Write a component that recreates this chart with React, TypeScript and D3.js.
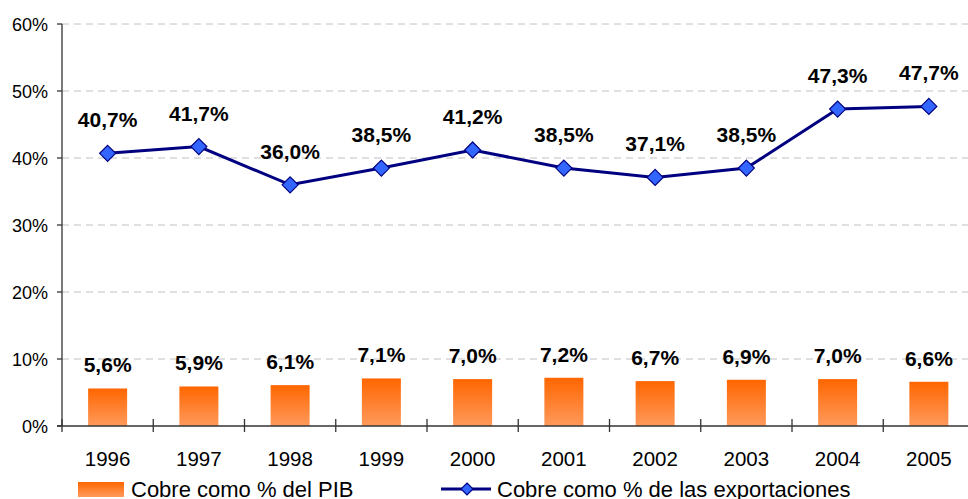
import * as d3 from "d3";

const years = ["1996", "1997", "1998", "1999", "2000", "2001", "2002", "2003", "2004", "2005"];
const pibShare = [5.6, 5.9, 6.1, 7.1, 7.0, 7.2, 6.7, 6.9, 7.0, 6.6];
const exportShare = [40.7, 41.7, 36.0, 38.5, 41.2, 38.5, 37.1, 38.5, 47.3, 47.7];
const yTicks = [0, 10, 20, 30, 40, 50, 60];
const seriesNames = ["Cobre como % del PIB", "Cobre como % de las exportaciones"];

const W = 968;
const H = 499;
const left = 62;
const top = 24;
const bottom = 426;

const fmt = (v: number) => v.toFixed(1).replace(".", ",") + "%";

const Diamond = ({ x, y, r }: { x: number; y: number; r: number }) => (
  <path
    d={`M${x},${y - r}L${x + r},${y}L${x},${y + r}L${x - r},${y}Z`}
    fill="#3366FF"
    stroke="#000080"
    strokeWidth={1.2}
  />
);

export default function App() {
  const x = d3.scaleBand<string>().domain(years).range([left, left + 91.25 * years.length]).padding(0);
  const y = d3.scaleLinear().domain([0, 60]).range([bottom, top]);
  const barW = 39;
  const cx = (d: string) => (x(d) ?? 0) + x.bandwidth() / 2;

  const line = d3
    .line<number>()
    .x((_, i) => cx(years[i]))
    .y((v) => y(v));

  const font = "Arial, 'Liberation Sans', sans-serif";

  return (
    <svg
      width={W}
      height={H}
      style={{ position: "absolute", left: 0, top: 0, background: "#fff" }}
      fontFamily={font}
    >
      <defs>
        <linearGradient id="barGrad" x1="0" y1="0" x2="0" y2="1">
          <stop offset="0%" stopColor="#FF6600" />
          <stop offset="100%" stopColor="#FF9A5C" />
        </linearGradient>
      </defs>

      {/* grid lines */}
      {yTicks.filter((t) => t > 0).map((t) => (
        <line
          key={"g" + t}
          x1={left}
          x2={W}
          y1={y(t)}
          y2={y(t)}
          stroke="#C0C0C0"
          strokeDasharray="7,5"
        />
      ))}

      {/* bars */}
      {years.map((yr, i) => (
        <rect
          key={"b" + yr}
          x={cx(yr) - barW / 2}
          y={y(pibShare[i])}
          width={barW}
          height={bottom - y(pibShare[i])}
          fill="url(#barGrad)"
        />
      ))}

      {/* axes */}
      <line x1={left} x2={left} y1={top} y2={bottom} stroke="#333" strokeWidth={1.3} />
      <line x1={left - 5} x2={W} y1={bottom} y2={bottom} stroke="#333" strokeWidth={1.3} />
      {yTicks.map((t) => (
        <g key={"y" + t}>
          <line x1={left - 5} x2={left} y1={y(t)} y2={y(t)} stroke="#333" strokeWidth={1.3} />
          <text x={48} y={y(t) + 6.5} textAnchor="end" fontSize={18} fill="#000">
            {t + "%"}
          </text>
        </g>
      ))}
      {years.map((yr) => (
        <line
          key={"xt" + yr}
          x1={x(yr)}
          x2={x(yr)}
          y1={bottom - 7}
          y2={bottom + 6}
          stroke="#333"
          strokeWidth={1.3}
        />
      ))}
      {years.map((yr) => (
        <text key={"xl" + yr} x={cx(yr)} y={466} textAnchor="middle" fontSize={20.5} fill="#000">
          {yr}
        </text>
      ))}

      {/* line series */}
      <path d={line(exportShare) ?? ""} fill="none" stroke="#000080" strokeWidth={3} />
      {exportShare.map((v, i) => (
        <Diamond key={"d" + i} x={cx(years[i])} y={y(v)} r={8} />
      ))}

      {/* labels */}
      {exportShare.map((v, i) => (
        <text
          key={"le" + i}
          x={cx(years[i])}
          y={y(v) - 26}
          textAnchor="middle"
          fontSize={21}
          fontWeight="bold"
          fill="#000"
        >
          {fmt(v)}
        </text>
      ))}
      {pibShare.map((v, i) => (
        <text
          key={"lb" + i}
          x={cx(years[i])}
          y={y(v) - 16}
          textAnchor="middle"
          fontSize={21}
          fontWeight="bold"
          fill="#000"
        >
          {fmt(v)}
        </text>
      ))}

      {/* legend */}
      <rect x={78} y={482} width={46} height={15} fill="url(#barGrad)" />
      <text x={131} y={497} fontSize={22} fill="#000">
        {seriesNames[0]}
      </text>
      <line x1={441} x2={491} y1={489} y2={489} stroke="#000080" strokeWidth={3} />
      <Diamond x={467} y={489} r={6} />
      <text x={497} y={497} fontSize={22} fill="#000">
        {seriesNames[1]}
      </text>
    </svg>
  );
}
